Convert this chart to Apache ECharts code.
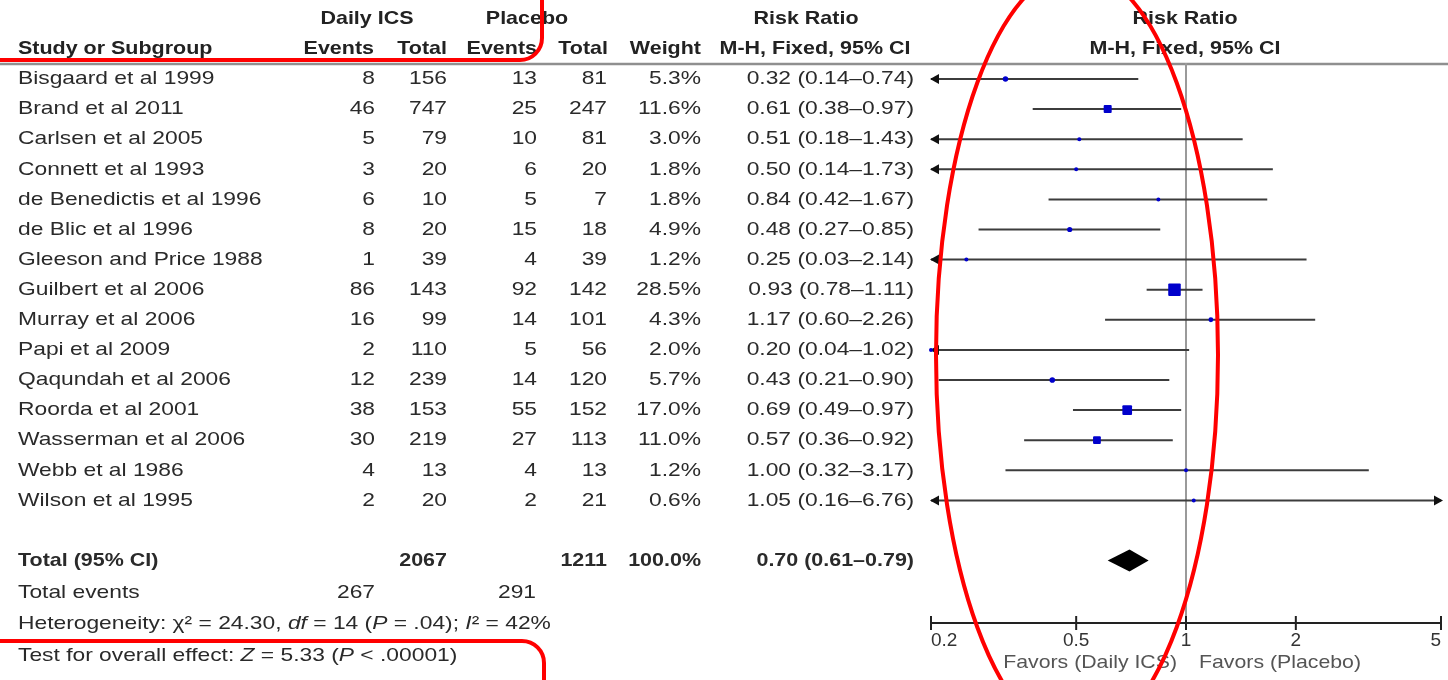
<!DOCTYPE html>
<html><head><meta charset="utf-8">
<script src="https://cdn.jsdelivr.net/npm/echarts@6/dist/echarts.min.js"></script>
<style>html,body{margin:0;padding:0;background:#fff}#c{width:1448px;height:680px}</style>
</head><body><div id="c"></div><script>
// ---------- data ----------
const studies = ['Bisgaard et al 1999','Brand et al 2011','Carlsen et al 2005','Connett et al 1993','de Benedictis et al 1996','de Blic et al 1996','Gleeson and Price 1988','Guilbert et al 2006','Murray et al 2006','Papi et al 2009','Qaqundah et al 2006','Roorda et al 2001','Wasserman et al 2006','Webb et al 1986','Wilson et al 1995'];
const icsEvents = [8,46,5,3,6,8,1,86,16,2,12,38,30,4,2];
const icsTotal  = [156,747,79,20,10,20,39,143,99,110,239,153,219,13,20];
const pboEvents = [13,25,10,6,5,15,4,92,14,5,14,55,27,4,2];
const pboTotal  = [81,247,81,20,7,18,39,142,101,56,120,152,113,13,21];
const weights   = [5.3,11.6,3.0,1.8,1.8,4.9,1.2,28.5,4.3,2.0,5.7,17.0,11.0,1.2,0.6];
const riskRatio = [0.32,0.61,0.51,0.50,0.84,0.48,0.25,0.93,1.17,0.20,0.43,0.69,0.57,1.00,1.05];
const ciLower   = [0.14,0.38,0.18,0.14,0.42,0.27,0.03,0.78,0.60,0.04,0.21,0.49,0.36,0.32,0.16];
const ciUpper   = [0.74,0.97,1.43,1.73,1.67,0.85,2.14,1.11,2.26,1.02,0.90,0.97,0.92,3.17,6.76];
const totalIcsN = 2067, totalPboN = 1211, totalWeight = 100.0;
const totalRR = [0.70, 0.61, 0.79];
const totalIcsEvents = 267, totalPboEvents = 291;
const hetChi2 = '24.30', hetDf = '14', hetP = '.04', hetI2 = '42%';
const zValue = '5.33', zP = '< .00001';
const axisTicks = [0.2, 0.5, 1, 2, 5];
const axisTickLabels = ['0.2','0.5','1','2','5'];

// ---------- layout ----------
const FONT = '"Liberation Sans", Arial, sans-serif';
const FS = 19, SX = 1.2, SXB = 1.13;
const TXT = '#2a2a2a';
const ROW0 = 79, ROWSTEP = 30.1, GRID_TOP = 63, GRID_H = 560;
const yMin = (GRID_TOP - ROW0) / ROWSTEP, yMax = yMin + GRID_H / ROWSTEP;
const TOTAL_ROW = 16;
const COL = {name:18, ev1:375, tot1:447, ev2:537, tot2:607, w:701, ci:914};
const AX_MIN = 0.2, AX_MAX = 5;

function t(x, y, text, align, bold, color, sx) {
  return {type:'text', x:x, y:y, scaleX: sx || (bold ? SXB : SX), silent:true,
    style:{x:0, y:0, text:text, align:align, verticalAlign:'middle',
      font:(bold ? 'bold ' : '') + FS + 'px ' + FONT, fill: color || TXT}};
}
const f2 = v => v.toFixed(2);
const ciStr = (e, l, h) => f2(e) + ' (' + f2(l) + '\u2013' + f2(h) + ')';

const chart = echarts.init(document.getElementById('c'), null, {renderer:'canvas'});
const yOf = (api, r) => api.coord([1, r])[1];

const option = {
  animation:false,
  grid:{left:931, top:GRID_TOP, width:510, height:GRID_H, containLabel:false},
  xAxis:{
    type:'log', logBase:10, min:AX_MIN, max:AX_MAX, position:'bottom',
    axisLine:{show:true, onZero:false, lineStyle:{color:'#222', width:2}},
    axisTick:{show:false},
    axisLabel:{show:true, customValues:axisTicks, margin:8, fontSize:19, fontFamily:FONT, color:'#333',
      alignMinLabel:'left', alignMaxLabel:'right',
      formatter: v => { let k = 0, d = 1e9; axisTicks.forEach((a, i) => { const dd = Math.abs(a - v); if (dd < d) { d = dd; k = i; } }); return axisTickLabels[k]; }},
    splitLine:{show:false}, minorTick:{show:false}, minorSplitLine:{show:false}
  },
  yAxis:{type:'value', inverse:true, min:yMin, max:yMax, show:false},
  series:[
    { // table rows
      type:'custom', coordinateSystem:'cartesian2d', clip:false, silent:true,
      data: studies.map((s, i) => [1, i]), encode:{x:0, y:1},
      renderItem:(params, api) => {
        const i = params.dataIndex, y = yOf(api, api.value(1));
        return {type:'group', children:[
          t(COL.name, y, studies[i], 'left'),
          t(COL.ev1, y, String(icsEvents[i]), 'right'),
          t(COL.tot1, y, String(icsTotal[i]), 'right'),
          t(COL.ev2, y, String(pboEvents[i]), 'right'),
          t(COL.tot2, y, String(pboTotal[i]), 'right'),
          t(COL.w, y, weights[i].toFixed(1) + '%', 'right'),
          t(COL.ci, y, ciStr(riskRatio[i], ciLower[i], ciUpper[i]), 'right')
        ]};
      }
    },
    { // total row text
      type:'custom', coordinateSystem:'cartesian2d', clip:false, silent:true,
      data:[[1, TOTAL_ROW]], encode:{x:0, y:1},
      renderItem:(params, api) => {
        const y = yOf(api, api.value(1));
        return {type:'group', children:[
          t(COL.name, y, 'Total (95% CI)', 'left', true),
          t(COL.tot1, y, String(totalIcsN), 'right', true),
          t(COL.tot2, y, String(totalPboN), 'right', true),
          t(COL.w, y, totalWeight.toFixed(1) + '%', 'right', true),
          t(COL.ci, y, ciStr(totalRR[0], totalRR[1], totalRR[2]), 'right', true)
        ]};
      }
    },
    { // axis ticks crossing the axis line
      type:'custom', coordinateSystem:'cartesian2d', clip:false, silent:true,
      data: axisTicks.map(v => [v, yMax]), encode:{x:0, y:1},
      renderItem:(params, api) => {
        const p = api.coord([api.value(0), api.value(1)]);
        return {type:'line', shape:{x1:p[0], y1:p[1] - 7, x2:p[0], y2:p[1] + 7}, style:{stroke:'#222', lineWidth:2}};
      }
    },
    { // forest study marks
      type:'custom', coordinateSystem:'cartesian2d', clip:false, silent:true,
      data: riskRatio.map((v, i) => [v, i, ciLower[i], ciUpper[i], weights[i]]), encode:{x:0, y:1},
      renderItem:(params, api) => {
        const y = yOf(api, api.value(1));
        const l = api.value(2), h = api.value(3);
        const xl = api.coord([Math.max(l, AX_MIN), 1])[0];
        const xh = api.coord([Math.min(h, AX_MAX), 1])[0];
        const xe = api.coord([api.value(0), 1])[0];
        const s = Math.max(4, Math.sqrt(api.value(4)) * 2.35);
        const ch = [{type:'line', shape:{x1:xl, y1:y, x2:xh, y2:y}, style:{stroke:'#3c3c3c', lineWidth:2}}];
        if (l < AX_MIN) ch.push({type:'polygon', shape:{points:[[xl - 1, y], [xl + 8, y - 5], [xl + 8, y + 5]]}, style:{fill:'#111'}});
        if (h > AX_MAX) ch.push({type:'polygon', shape:{points:[[xh + 2, y], [xh - 7, y - 5], [xh - 7, y + 5]]}, style:{fill:'#111'}});
        ch.push({type:'rect', shape:{x:xe - s / 2, y:y - s / 2, width:s, height:s, r: s < 7 ? s / 2 : 1}, style:{fill:'#0000cc'}});
        return {type:'group', children:ch};
      }
    },
    { // total diamond + line of no effect
      type:'custom', coordinateSystem:'cartesian2d', clip:false, silent:true,
      data:[[totalRR[0], TOTAL_ROW, totalRR[1], totalRR[2]]], encode:{x:0, y:1},
      renderItem:(params, api) => {
        const y = yOf(api, api.value(1));
        const xe = api.coord([api.value(0), 1])[0];
        const xl = api.coord([api.value(2), 1])[0];
        const xh = api.coord([api.value(3), 1])[0];
        return {type:'polygon', shape:{points:[[xl, y], [xe, y - 11], [xh, y], [xe, y + 11]]}, style:{fill:'#000'}};
      },
      markLine:{silent:true, symbol:'none', label:{show:false}, z:1,
        lineStyle:{color:'#9a9a9a', width:2, type:'solid'}, data:[{xAxis:1}]}
    }
  ],
  graphic:[
    {type:'line', shape:{x1:0, y1:64, x2:1448, y2:64}, style:{stroke:'#8f8f8f', lineWidth:2.5}, z:0, silent:true},
    t(367, 19, 'Daily ICS', 'center', true, '#222'),
    t(527, 19, 'Placebo', 'center', true, '#222'),
    t(806, 19, 'Risk Ratio', 'center', true, '#222'),
    t(1185, 19, 'Risk Ratio', 'center', true, '#222'),
    t(18, 49, 'Study or Subgroup', 'left', true, '#222'),
    t(374, 49, 'Events', 'right', true, '#222'),
    t(447, 49, 'Total', 'right', true, '#222'),
    t(537, 49, 'Events', 'right', true, '#222'),
    t(608, 49, 'Total', 'right', true, '#222'),
    t(701, 49, 'Weight', 'right', true, '#222'),
    t(815, 49, 'M-H, Fixed, 95% CI', 'center', true, '#222'),
    t(1185, 49, 'M-H, Fixed, 95% CI', 'center', true, '#222'),
    t(18, 593, 'Total events', 'left'),
    t(COL.ev1, 593, String(totalIcsEvents), 'right'),
    t(COL.ev2 - 1, 593, String(totalPboEvents), 'right'),
    {type:'text', x:18, y:624, scaleX:SX, silent:true, style:{x:0, y:0, align:'left', verticalAlign:'middle',
      font: FS + 'px ' + FONT, fill:TXT,
      text:'Heterogeneity: \u03C7\u00B2 = ' + hetChi2 + ', {i|df} = ' + hetDf + ' ({i|P} = ' + hetP + '); {i|I}\u00B2 = ' + hetI2,
      rich:{i:{fontStyle:'italic', fontSize:FS, fontFamily:FONT, fill:TXT}}}},
    {type:'text', x:18, y:656, scaleX:SX, silent:true, style:{x:0, y:0, align:'left', verticalAlign:'middle',
      font: FS + 'px ' + FONT, fill:TXT,
      text:'Test for overall effect: {i|Z} = ' + zValue + ' ({i|P} ' + zP + ')',
      rich:{i:{fontStyle:'italic', fontSize:FS, fontFamily:FONT, fill:TXT}}}},
    t(1177, 663, 'Favors (Daily ICS)', 'right', false, '#555', 1.12),
    t(1199, 663, 'Favors (Placebo)', 'left', false, '#555', 1.12),
    // red annotations
    {type:'rect', shape:{x:-30, y:-30, width:572, height:90, r:22}, style:{fill:null, stroke:'#ff0000', lineWidth:4}, z:100, silent:true},
    {type:'rect', shape:{x:-30, y:641, width:574, height:100, r:22}, style:{fill:null, stroke:'#ff0000', lineWidth:4}, z:100, silent:true},
    {type:'ellipse', shape:{cx:1077, cy:355, rx:141, ry:385}, style:{fill:null, stroke:'#ff0000', lineWidth:4}, z:100, silent:true}
  ]
};
chart.setOption(option);
</script></body></html>
